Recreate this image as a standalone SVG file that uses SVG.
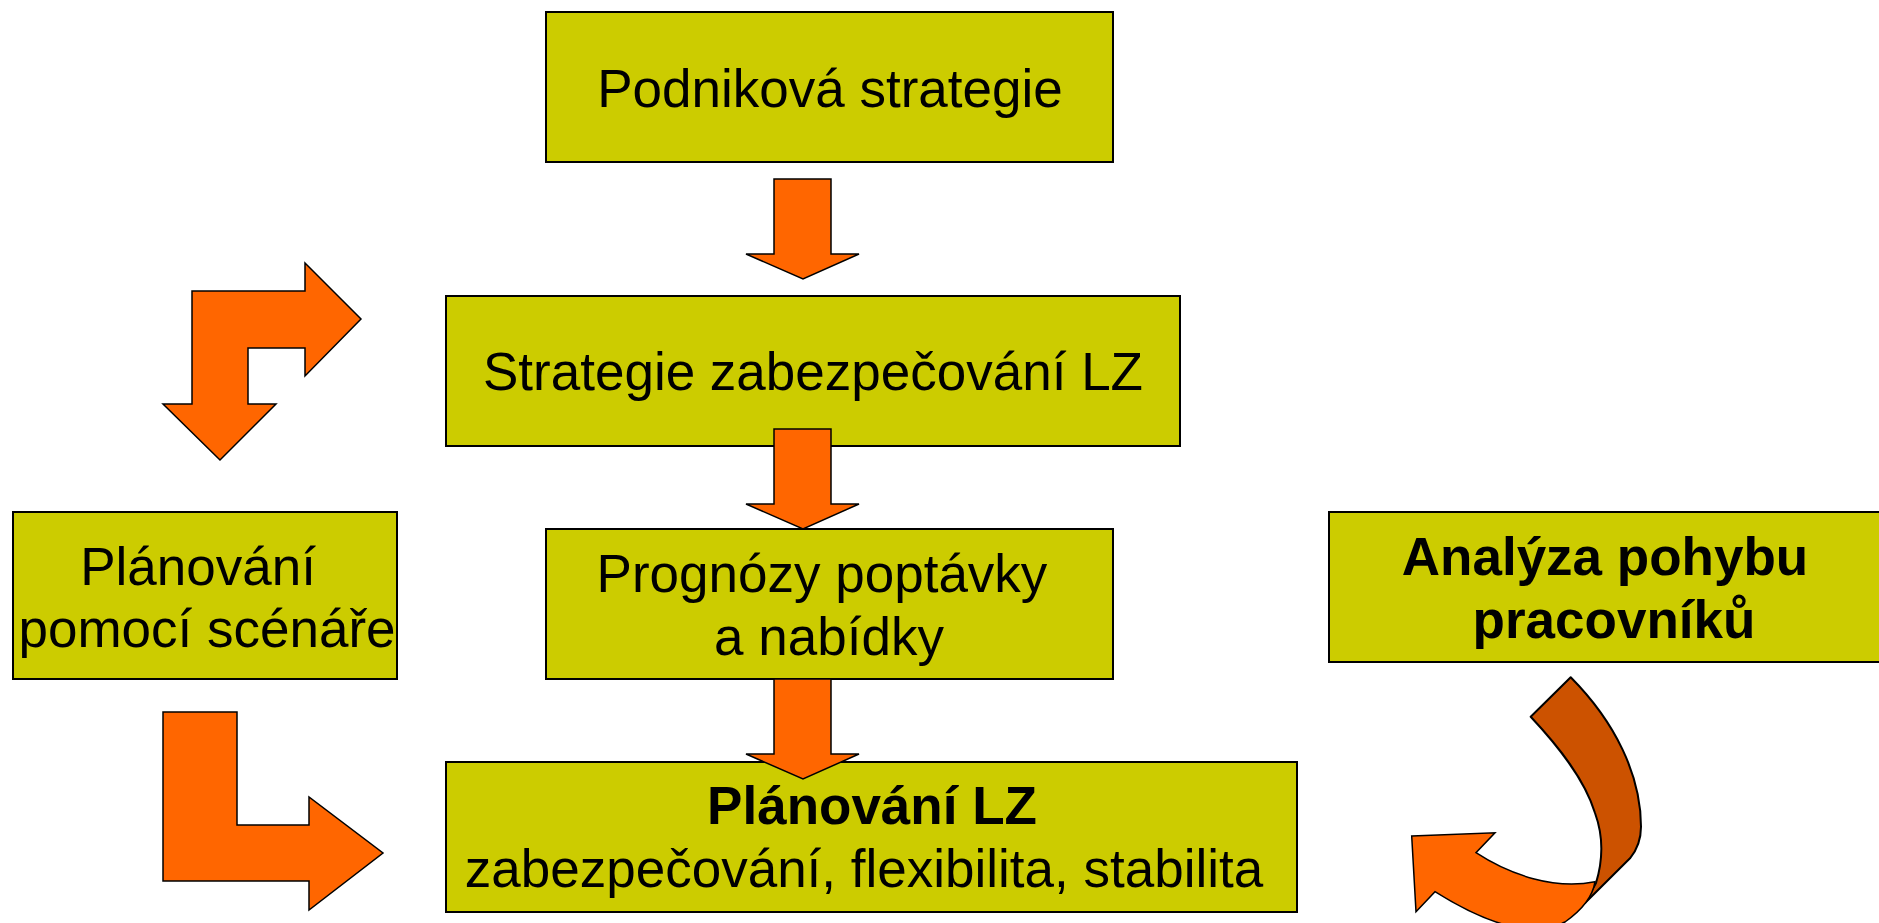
<svg xmlns="http://www.w3.org/2000/svg" width="1879" height="923" viewBox="0 0 1879 923">
<style>
.box{fill:#CCCC00;stroke:#000;stroke-width:2}
.arr{fill:#FF6600;stroke:#000;stroke-width:1.5;stroke-linejoin:miter}
.dark{fill:#CC5200;stroke:#000;stroke-width:2;stroke-linejoin:round}
.t{font-family:"Liberation Sans",Arial,sans-serif;font-size:53px;fill:#000;text-anchor:middle}
.b{font-weight:bold}
</style>
<rect width="1879" height="923" fill="#fff"/>
<g id="node-podnikova">
<rect class="box" x="546" y="12" width="567" height="150"/>
<text class="t" x="830" y="107">Podniková strategie</text>
</g>
<g id="node-strategie">
<rect class="box" x="446" y="296" width="734" height="150"/>
<text class="t" x="813" y="390">Strategie zabezpečování LZ</text>
</g>
<g id="node-prognozy">
<rect class="box" x="546" y="529" width="567" height="150"/>
<text class="t" x="822" y="592">Prognózy poptávky</text>
<text class="t" x="829" y="655">a nabídky</text>
</g>
<g id="node-planovani-lz">
<rect class="box" x="446" y="762" width="851" height="150"/>
<text class="t b" x="872" y="824">Plánování LZ</text>
<text class="t" x="864" y="887">zabezpečování, flexibilita, stabilita</text>
</g>
<g id="node-scenare">
<rect class="box" x="13" y="512" width="384" height="167"/>
<text class="t" x="198" y="585">Plánování</text>
<text class="t" x="207" y="647">pomocí scénáře</text>
</g>
<g id="node-analyza">
<rect class="box" x="1329" y="512" width="562" height="150"/>
<text class="t b" x="1605" y="575">Analýza pohybu</text>
<text class="t b" x="1614" y="638">pracovníků</text>
</g>
<g id="connectors">
<polygon class="arr" points="774,179 831,179 831,254 859,254 803,279 746,254 774,254"/>
<polygon class="arr" points="774,429 831,429 831,504 859,504 803,529 746,504 774,504"/>
<polygon class="arr" points="774,679 831,679 831,754 859,754 803,779 746,754 774,754"/>
<polygon class="arr" points="192,404 192,291 305,291 305,263 361,319 305,376 305,348 248,348 248,404 276,404 220,460 163,404"/>
<polygon class="arr" points="163,712 237,712 237,825 309,825 309,797 383,853 309,910 309,881 163,881"/>
<path class="dark" d="M1530.7,716.7 L1570.7,677.3 C1615,722 1641,775 1641,826.7 C1641,840 1636,851 1630,858.3 L1585,903 L1596,883 C1603,860 1603,835 1595,813 C1585,780 1560,748 1530.7,716.7 Z"/>
<path class="arr" stroke-width="2" stroke-linejoin="round" d="M1411.7,836 L1495,832.7 L1476,852.7 C1510,875 1555,890 1595,881.7 C1593,895 1585,908 1565,922 C1530,940 1480,920 1435,891.7 L1416,911.7 Z"/>
</g>
</svg>
